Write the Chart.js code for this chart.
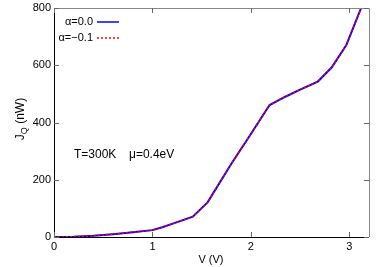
<!DOCTYPE html>
<html>
<head>
<meta charset="utf-8">
<script src="https://cdn.jsdelivr.net/npm/chart.js@4"></script>
<style>
  html, body { margin: 0; padding: 0; background: #fff; }
  #wrap { width: 382px; height: 267px; }
</style>
</head>
<body>
<div id="wrap"><canvas id="jq" width="382" height="267"></canvas></div>
<script>
// values
const voltage = [0, 0.2, 0.4, 0.6, 0.8, 1.0, 1.1, 1.2, 1.41, 1.56, 1.8, 2.0, 2.19, 2.35, 2.5, 2.68, 2.82, 2.97, 3.12, 3.2];
const jqAlpha0 = [0, 1, 4, 10, 17, 24, 34, 46, 71, 121, 255, 360, 461, 490, 515, 543, 592, 671, 800, 870];
const jqAlphaM01 = [0, 1, 4, 10, 17, 24, 34, 46, 71, 121, 255, 360, 461, 490, 515, 543, 592, 671, 800, 870];
const xTicks = [0, 1, 2, 3];
const yTicks = [0, 200, 400, 600, 800];
const seriesLabels = ['\u03b1=0.0', '\u03b1=\u22120.1'];

const font = '11px "Liberation Sans", Arial, sans-serif';
const titleFont = '12px "Liberation Sans", Arial, sans-serif';
const subFont = '9px "Liberation Sans", Arial, sans-serif';

const gnuplotFrame = {
    id: 'gnuplotFrame',
    afterDraw(chart) {
        const c = chart.ctx, a = chart.chartArea;
        const xs = chart.scales.x, ys = chart.scales.y;
        c.save();
        // border
        c.strokeStyle = '#000';
        c.lineWidth = 1;
        c.beginPath();
        c.moveTo(a.left + 0.5, a.top);
        c.lineTo(a.left + 0.5, a.bottom + 0.5);
        c.lineTo(a.right, a.bottom + 0.5);
        c.stroke();
        c.strokeStyle = '#888';
        c.beginPath();
        c.moveTo(a.left, a.top + 0.5);
        c.lineTo(a.right + 0.5, a.top + 0.5);
        c.lineTo(a.right + 0.5, a.bottom);
        c.stroke();
        // inward ticks
        c.strokeStyle = '#666';
        c.beginPath();
        xTicks.forEach(v => {
            const px = Math.round(xs.getPixelForValue(v)) + 0.5;
            c.moveTo(px, a.bottom); c.lineTo(px, a.bottom - 5);
            c.moveTo(px, a.top); c.lineTo(px, a.top + 5);
        });
        yTicks.forEach(v => {
            const py = Math.round(ys.getPixelForValue(v)) + 0.5;
            c.moveTo(a.left, py); c.lineTo(a.left + 5, py);
            c.moveTo(a.right, py); c.lineTo(a.right - 5, py);
        });
        c.stroke();
        // tick labels
        c.fillStyle = '#000';
        c.font = font;
        c.textAlign = 'center';
        c.textBaseline = 'top';
        xTicks.forEach(v => c.fillText(String(v), xs.getPixelForValue(v), a.bottom + 4));
        c.textAlign = 'right';
        c.textBaseline = 'middle';
        yTicks.forEach(v => c.fillText(String(v), a.left - 3, ys.getPixelForValue(v)));
        // axis titles
        c.textAlign = 'center';
        c.textBaseline = 'alphabetic';
        c.fillText('V (V)', 211, 263);
        c.save();
        c.translate(24, 119);
        c.rotate(-Math.PI / 2);
        c.textAlign = 'left';
        c.font = titleFont;
        const w1 = c.measureText('J').width;
        c.font = subFont;
        const w2 = c.measureText('Q').width;
        c.font = titleFont;
        const w3 = c.measureText(' (nW)').width;
        const x0 = -(w1 + w2 + w3) / 2;
        c.fillText('J', x0, 0);
        c.font = subFont;
        c.fillText('Q', x0 + w1, 3);
        c.font = titleFont;
        c.fillText(' (nW)', x0 + w1 + w2, 0);
        c.restore();
        // annotation
        c.font = titleFont;
        c.textAlign = 'left';
        c.textBaseline = 'middle';
        c.fillText('T=300K', 74, 155);
        c.fillText('\u03bc=0.4eV', 129, 155);
        // legend
        c.font = font;
        c.textAlign = 'right';
        const rows = [22, 38];
        chart.data.datasets.forEach((ds, i) => {
            c.fillStyle = '#000';
            c.fillText(ds.label, 93, rows[i]);
            c.strokeStyle = ds.borderColor;
            c.lineWidth = 1.5;
            c.setLineDash(ds.borderDash || []);
            c.beginPath();
            c.moveTo(97, rows[i]);
            c.lineTo(119, rows[i]);
            c.stroke();
        });
        c.setLineDash([]);
        c.restore();
    }
};

new Chart(document.getElementById('jq'), {
    type: 'line',
    data: {
        datasets: [
            {
                label: seriesLabels[0],
                data: voltage.map((v, i) => ({ x: v, y: jqAlpha0[i] })),
                borderColor: '#0000ff',
                borderWidth: 2,
                pointRadius: 0,
                tension: 0,
                order: 1
            },
            {
                label: seriesLabels[1],
                data: voltage.map((v, i) => ({ x: v, y: jqAlphaM01[i] })),
                borderColor: '#ff0000',
                borderWidth: 1.5,
                borderDash: [2, 2],
                pointRadius: 0,
                tension: 0,
                order: 0
            }
        ]
    },
    options: {
        responsive: false,
        animation: false,
        layout: { padding: { top: 8, right: 13, left: 0, bottom: 0 } },
        plugins: { legend: { display: false }, tooltip: { enabled: false } },
        scales: {
            x: {
                type: 'linear', min: 0, max: 3.2,
                grid: { display: false }, border: { display: false },
                ticks: { display: false },
                afterFit(s) { s.height = 30; }
            },
            y: {
                min: 0, max: 800,
                grid: { display: false }, border: { display: false },
                ticks: { display: false },
                afterFit(s) { s.width = 54; }
            }
        }
    },
    plugins: [gnuplotFrame]
});
</script>
</body>
</html>
